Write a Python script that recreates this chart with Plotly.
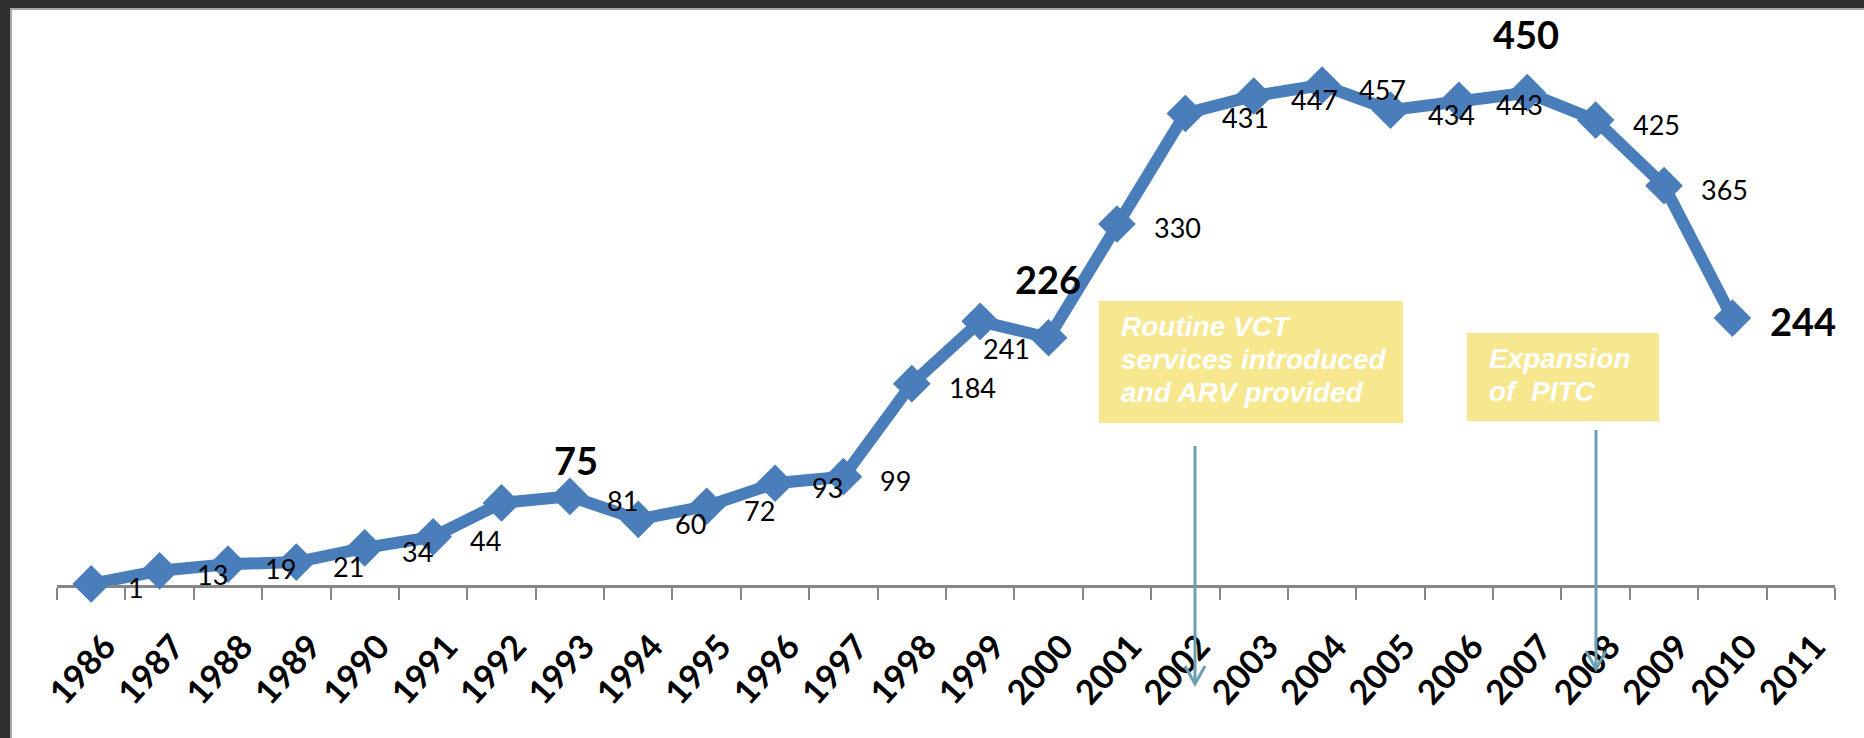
import plotly.graph_objects as go

# ---------------- data ----------------
years = [str(y) for y in range(1986, 2012)]
values = [1, 13, 19, 21, 34, 44, 75, 81, 60, 72, 93, 99, 184, 241, 226,
          330, 431, 447, 457, 434, 443, 450, 425, 365, 244]
# label placement style for each value
label_style = ["right"] * len(values)
label_style[6] = "above_bold_shift"   # 75
label_style[13] = "below"             # 241
label_style[14] = "above_bold"        # 226
label_style[21] = "above_bold"        # 450
label_style[24] = "right_bold"        # 244

box1_lines = ["Routine VCT", "services introduced", "and ARV provided"]
box2_lines = ["Expansion", "of  PITC"]

# ---------------- geometry helpers (pixels -> paper) ----------------
W_PX, H_PX = 1864, 738
L, R_EDGE = 57, 1835
T, B = 38, 585
PW, PH = R_EDGE - L, B - T


def px(xp):
    return (xp - L) / PW


def py(yp):
    return (B - yp) / PH


BLUE = "#4a7ebb"
AXIS = "#868686"
ARROW = "#6b9fb2"
BOX = "#f7e78f"
FONT = "Lato, 'Liberation Sans', Arial, sans-serif"
BOXFONT = "'Liberation Sans', Arial, sans-serif"

fig = go.Figure()
fig.add_trace(go.Scatter(
    x=years[:len(values)], y=values, mode="lines+markers",
    line=dict(color=BLUE, width=12),
    marker=dict(symbol="diamond", size=29, color=BLUE),
    cliponaxis=False, hoverinfo="skip", showlegend=False,
))

annotations = []
for i, (v, st) in enumerate(zip(values, label_style)):
    a = dict(x=i, y=v, xref="x", yref="y", text=str(v), showarrow=False,
             font=dict(family=FONT, size=27, color="black"))
    if st == "right":
        a.update(xanchor="left", yanchor="middle", xshift=35, yshift=-4)
    elif st == "below":
        a.update(xanchor="left", yanchor="middle", xshift=1, yshift=-27)
    elif st == "above_bold":
        a.update(xanchor="center", yanchor="middle", xshift=-1, yshift=59,
                 font=dict(family=FONT, size=38, color="black", weight="bold"))
    elif st == "above_bold_shift":
        a.update(xanchor="center", yanchor="middle", xshift=74, yshift=43,
                 font=dict(family=FONT, size=38, color="black", weight="bold"))
    elif st == "right_bold":
        a.update(xanchor="left", yanchor="middle", xshift=36, yshift=-3,
                 font=dict(family=FONT, size=38, color="black", weight="bold"))
    annotations.append(a)

# text boxes
for lines, x0, y_base in [(box1_lines, 1119, 338), (box2_lines, 1487, 370)]:
    for i, line in enumerate(lines):
        annotations.append(dict(
            x=px(x0), y=py(y_base + i * 33), xref="paper", yref="paper",
            xanchor="left", yanchor="bottom", yshift=-6, showarrow=False,
            text="<i>" + line + "</i>",
            font=dict(family=BOXFONT, size=28, color="white", weight="bold")))

shapes = [
    # white slide background
    dict(type="rect", xref="paper", yref="paper", layer="below",
         x0=px(11), x1=px(1900), y0=py(780), y1=py(9),
         fillcolor="white", line=dict(color="#a8a8a8", width=2)),
    # yellow boxes
    dict(type="rect", xref="paper", yref="paper", layer="above",
         x0=px(1099), x1=px(1403), y0=py(423), y1=py(301),
         fillcolor=BOX, line=dict(width=0)),
    dict(type="rect", xref="paper", yref="paper", layer="above",
         x0=px(1467), x1=px(1659), y0=py(421), y1=py(333),
         fillcolor=BOX, line=dict(width=0)),
]
for ax_x, top, bot in [(1195, 446, 684), (1596, 430, 669)]:
    shapes.append(dict(type="line", xref="paper", yref="paper", layer="above",
                       x0=px(ax_x), x1=px(ax_x), y0=py(top), y1=py(bot),
                       line=dict(color=ARROW, width=3)))
    shapes.append(dict(type="path", xref="paper", yref="paper", layer="above",
                       path=f"M {px(ax_x-10)},{py(bot-18)} L {px(ax_x)},{py(bot)} L {px(ax_x+10)},{py(bot-18)}",
                       line=dict(color=ARROW, width=3)))

fig.update_layout(
    width=W_PX, height=H_PX,
    margin=dict(l=L, r=W_PX - R_EDGE, t=T, b=H_PX - B, pad=0),
    paper_bgcolor="#2f2f2f", plot_bgcolor="rgba(0,0,0,0)",
    showlegend=False,
    annotations=annotations, shapes=shapes,
    xaxis=dict(type="category", categoryorder="array", categoryarray=years,
               range=[-0.5, len(years) - 0.5],
               showline=True, linecolor=AXIS, linewidth=3,
               ticks="outside", ticklen=12, tickwidth=2, tickcolor=AXIS,
               tickson="boundaries", showgrid=False, zeroline=False,
               tickangle=-48, layer="below traces",
               tickfont=dict(family=FONT, size=34, color="black", weight="bold"),
               ticklabelstandoff=25, ticklabelshift=14),
    yaxis=dict(range=[0, 500], visible=False, showgrid=False, zeroline=False),
)

fig.write_html("out.html", config={"displayModeBar": False},
               post_script="document.body.style.margin='0';"
                           "document.body.style.overflow='hidden';")
